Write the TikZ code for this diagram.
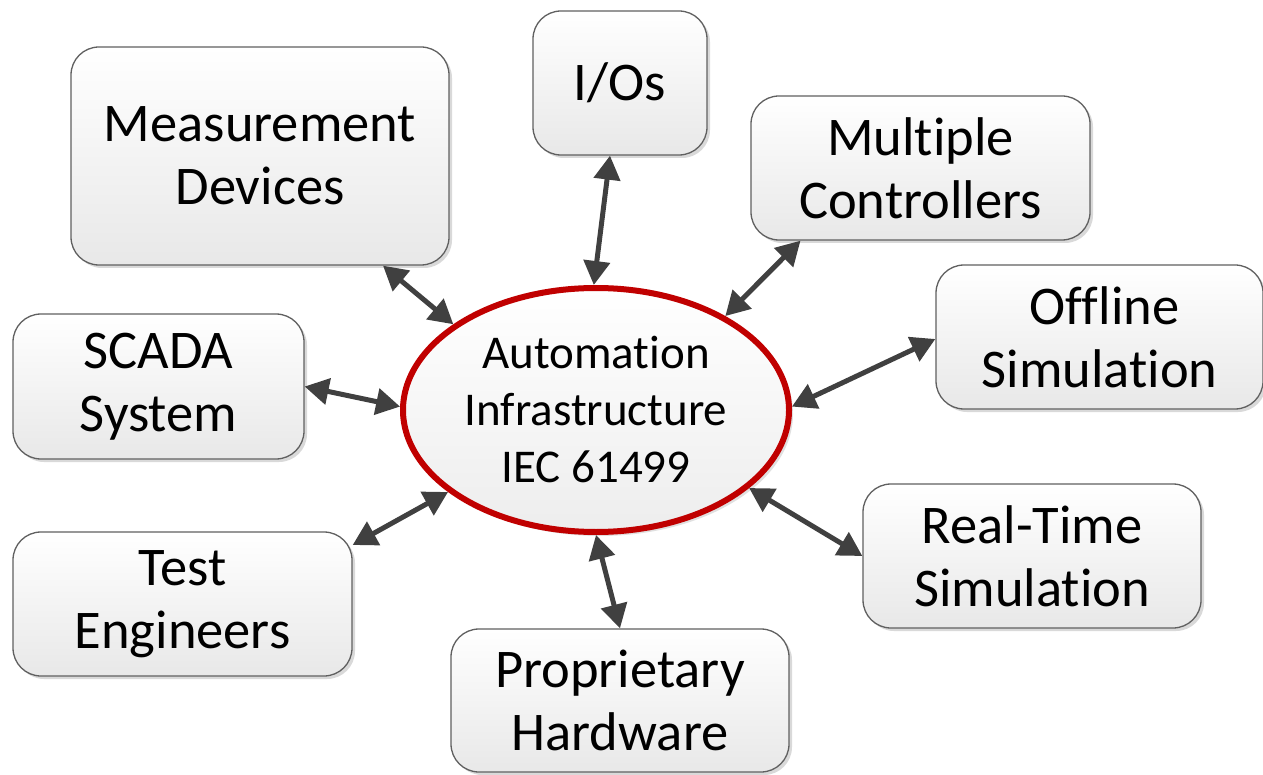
\documentclass[tikz,border=0pt]{standalone}
\usepackage{fontspec}
\setmainfont{Carlito}[Ligatures={NoCommon,NoRare}, RawFeature={-calt;-clig;-dlig}]
\usetikzlibrary{arrows.meta,shapes.geometric,shadows}
\definecolor{ringred}{HTML}{C00000}
\definecolor{linkgray}{HTML}{404040}
\definecolor{edgegray}{HTML}{606060}
\tikzset{
  topic/.style={draw=edgegray, line width=1.3pt, rounded corners=28pt,
    top color=white, bottom color=black!9, inner sep=0pt, align=center,
    font=\fontsize{54.5}{63}\selectfont,
    drop shadow={shadow xshift=3pt, shadow yshift=-3pt, fill=black, opacity=0.15}},
  hub/.style={ellipse, draw=ringred, line width=6pt,
    top color=white, bottom color=black!7, inner sep=0pt, align=center,
    minimum width=386pt, minimum height=244pt,
    font=\fontsize{47}{57}\selectfont,
    drop shadow={shadow xshift=4pt, shadow yshift=-4pt, fill=black, opacity=0.12}},
  link/.style={draw=linkgray, line width=5pt,
    {Triangle[length=24pt,width=26pt]}-{Triangle[length=24pt,width=26pt]}}
}
\begin{document}
\begin{tikzpicture}[x=1pt, y=-1pt]
\useasboundingbox (0,0) rectangle (1263,775);

% central hub
\node[hub] (hub) at (596,410) {Automation\\Infrastructure\\IEC 61499};

% surrounding topics
\node[topic, minimum width=378pt, minimum height=218pt] (md) at (260,156) {Measurement\\Devices};
\node[topic, minimum width=174pt, minimum height=144pt] (io) at (620,83) {I/Os};
\node[topic, minimum width=339pt, minimum height=144pt] (mc) at (920.5,168) {Multiple\\Controllers};
\node[topic, minimum width=327pt, minimum height=144pt] (of) at (1099.5,337) {\hspace*{10pt}Offline\\Simulation};
\node[topic, minimum width=291pt, minimum height=145pt] (sc) at (158.5,386.5) {SCADA\\System};
\node[topic, minimum width=338pt, minimum height=144pt] (rt) at (1032,556) {Real-Time\\Simulation};
\node[topic, minimum width=339pt, minimum height=144pt] (te) at (182.5,604) {Test\\Engineers};
\node[topic, minimum width=338pt, minimum height=143pt] (ph) at (620,700.5) {Proprietary\\Hardware};

% two-way links
\draw[link] (hub.149.4) -- ([xshift=123pt]md.south);
\draw[link] (hub.91.4) -- ([xshift=-10pt]io.south);
\draw[link] (hub.36) -- ([xshift=-120pt]mc.south);
\draw[link] (hub.1) -- ([yshift=-2pt]of.west);
\draw[link] (hub.179.4) -- (sc.east);
\draw[link] (hub.-27.8) -- (rt.west);
\draw[link] (hub.209.8) -- ([yshift=59pt]te.east);
\draw[link] (hub.270) -- (ph.north);
\end{tikzpicture}
\end{document}
